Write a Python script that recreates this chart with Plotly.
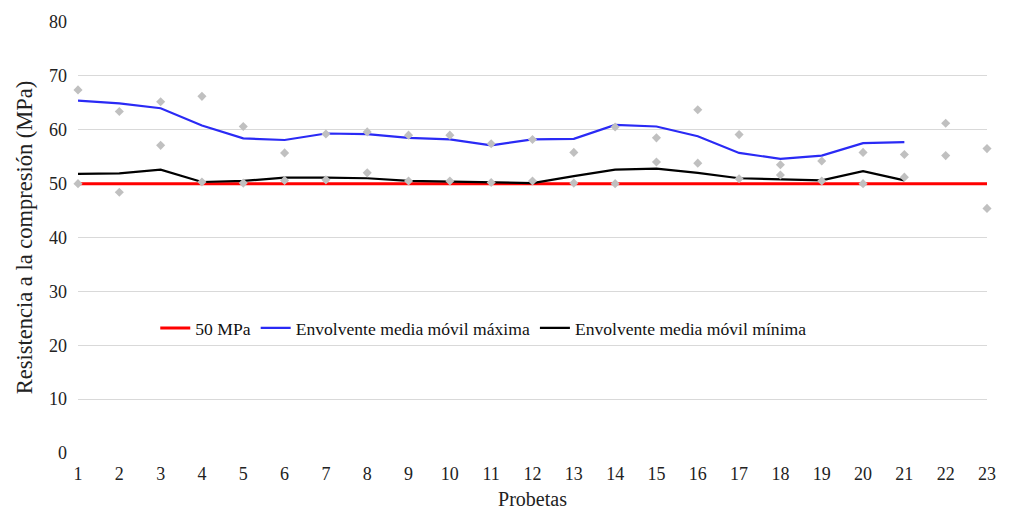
import plotly.graph_objects as go

probetas = list(range(1, 24))
ensayo_alto = [67.4, 63.4, 65.2, 66.2, 60.6, 55.7, 59.2, 59.6, 59.0, 59.0, 57.4, 58.2,
               55.8, 60.5, 58.5, 63.7, 59.1, 53.5, 54.2, 55.8, 55.4, 61.2, 56.5]
ensayo_bajo = [50.0, 48.4, 57.1, 50.3, 50.1, 50.6, 50.7, 52.0, 50.5, 50.5, 50.2, 50.5,
               50.1, 50.0, 54.0, 53.8, 50.9, 51.6, 50.5, 50.0, 51.2, 55.2, 45.4]
env_probetas = list(range(1, 22))
env_max = [65.4, 64.9, 64.0, 60.8, 58.4, 58.1, 59.3, 59.2, 58.5, 58.2, 57.1, 58.2,
           58.3, 60.9, 60.6, 58.8, 55.7, 54.6, 55.2, 57.5, 57.7]
env_min = [51.8, 51.9, 52.6, 50.3, 50.5, 51.1, 51.1, 51.0, 50.5, 50.4, 50.3, 50.1,
           51.4, 52.6, 52.8, 52.0, 51.0, 50.8, 50.6, 52.3, 50.6]
limite = [50] * 23

FONT = "Liberation Serif"

fig = go.Figure()
fig.add_trace(go.Scatter(x=probetas, y=limite, mode="lines", name="50 MPa",
                         line=dict(color="#ff0000", width=3)))
fig.add_trace(go.Scatter(x=env_probetas, y=env_max, mode="lines",
                         name="Envolvente media móvil máxima",
                         line=dict(color="#2a2af5", width=2.2)))
fig.add_trace(go.Scatter(x=env_probetas, y=env_min, mode="lines",
                         name="Envolvente media móvil mínima",
                         line=dict(color="#000000", width=2.2)))
for ys in (ensayo_alto, ensayo_bajo):
    fig.add_trace(go.Scatter(x=probetas, y=ys, mode="markers", showlegend=False,
                             marker=dict(symbol="diamond", size=7, color="#c0c0c0"),
                             cliponaxis=False))

fig.update_layout(
    width=1024, height=528,
    margin=dict(l=78, r=37, t=20, b=75),
    plot_bgcolor="white", paper_bgcolor="white",
    font=dict(family=FONT, size=18, color="#222222"),
    legend=dict(orientation="h", x=0.085, y=0.29, xanchor="left", yanchor="middle",
                bgcolor="rgba(0,0,0,0)", font=dict(family=FONT, size=17.6, color="#111111"),
                itemwidth=30, traceorder="normal"),
    showlegend=True,
)
fig.update_xaxes(range=[1, 23], tickmode="array", tickvals=probetas,
                 ticktext=[str(p) for p in probetas], showgrid=False, zeroline=False,
                 showline=False, ticks="", ticklabelstandoff=8,
                 title=dict(text="Probetas", standoff=8,
                 font=dict(family=FONT, size=20)), tickfont=dict(family=FONT, size=18))
fig.update_yaxes(range=[0, 80], dtick=10, showgrid=True, gridcolor="#d9d9d9",
                 gridwidth=1, zeroline=False, showline=False, ticks="",
                 ticklabelstandoff=10,
                 title=dict(text="Resistencia a la compresión (MPa)", standoff=10,
                 font=dict(family=FONT, size=22.5)), tickfont=dict(family=FONT, size=18))

fig.write_html("out.html")
